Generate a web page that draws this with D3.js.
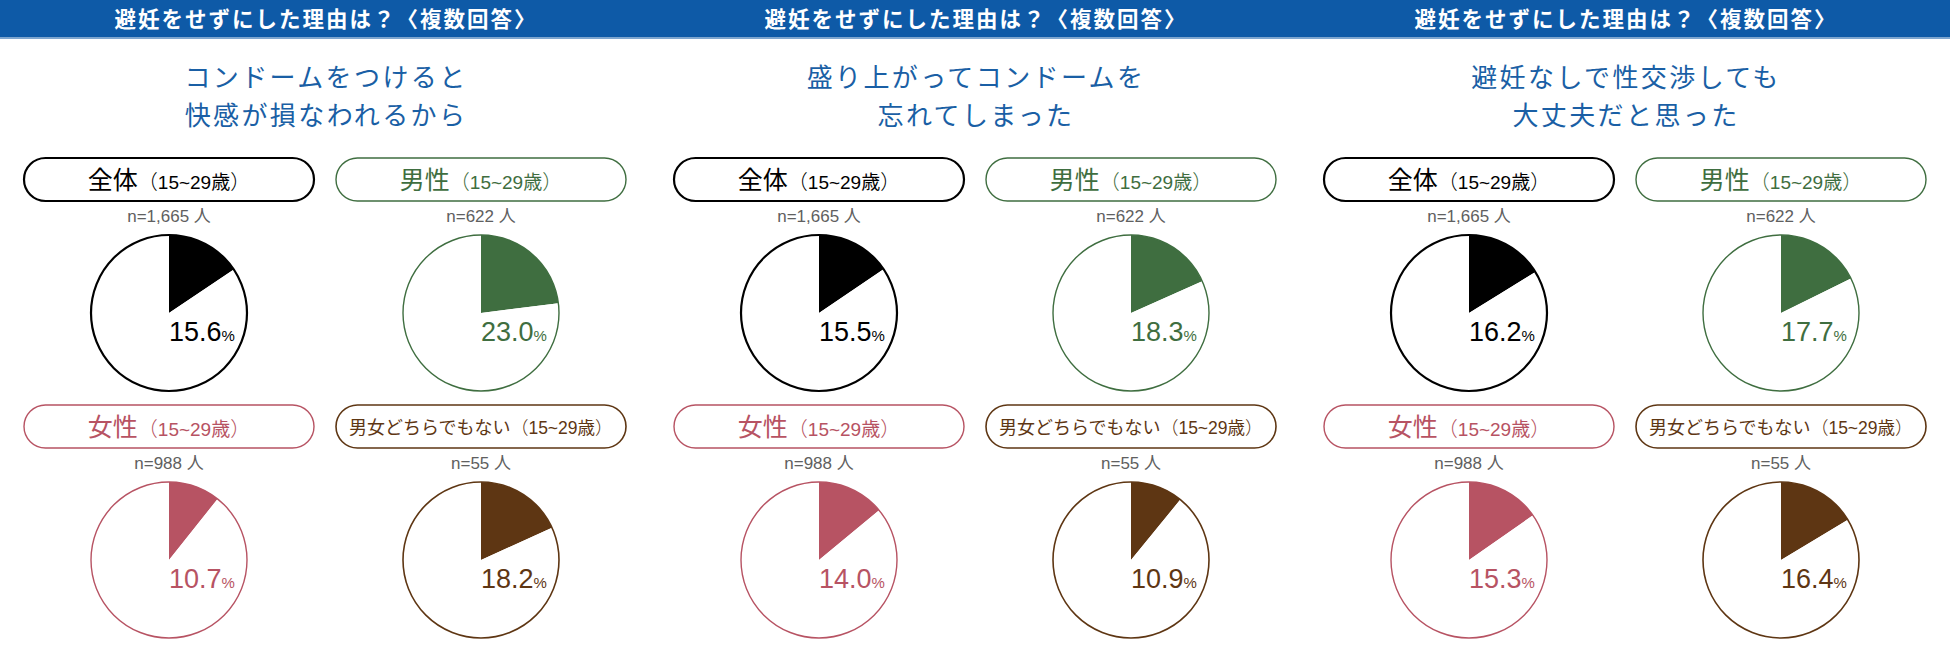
<!DOCTYPE html>
<html>
<head>
<meta charset="utf-8">
<script src="https://cdn.jsdelivr.net/npm/d3@7"></script>
<style>
  body { margin: 0; background: #fff; }
  svg { display: block; }
</style>
</head>
<body>
<div id="chart"></div>
<script>
const headerTitle = "避妊をせずにした理由は？〈複数回答〉";
const reasons = [
    ["コンドームをつけると", "快感が損なわれるから"],
    ["盛り上がってコンドームを", "忘れてしまった"],
    ["避妊なしで性交渉しても", "大丈夫だと思った"]
];
const groups = ["全体", "男性", "女性", "男女どちらでもない"];
const ageLabel = "（15~29歳）";
const sampleSizes = ["n=1,665 人", "n=622 人", "n=988 人", "n=55 人"];

// percent per group (全体, 男性, 女性, 男女どちらでもない)
const valuesReason1 = [15.6, 23.0, 10.7, 18.2];
const valuesReason2 = [15.5, 18.3, 14.0, 10.9];
const valuesReason3 = [16.2, 17.7, 15.3, 16.4];
const panelValues = [valuesReason1, valuesReason2, valuesReason3];

const groupColors = ["#000000", "#3f6e40", "#b75363", "#5e3613"];
const groupStroke = [2.2, 1.4, 1.4, 1.6];

const width = 1950, height = 650;
const blue = "#0e5aa7";
const jp = "'Noto Sans CJK JP', sans-serif";
const latin = "'Liberation Sans', 'Noto Sans CJK JP', sans-serif";

const svg = d3.select("#chart")
    .append("svg")
    .attr("width", width)
    .attr("height", height);

// header band
svg.append("rect")
    .attr("x", 0).attr("y", 0)
    .attr("width", width).attr("height", 37)
    .attr("fill", blue);
svg.append("rect")
    .attr("x", 0).attr("y", 37)
    .attr("width", width).attr("height", 2)
    .attr("fill", "#7ea6cf");

const panelScale = d3.scaleBand()
    .domain(d3.range(reasons.length))
    .range([0, width]);

const colX = d3.scaleOrdinal().domain([0, 1]).range([169, 481]);
const rowY = d3.scaleOrdinal().domain([0, 1]).range([0, 247]);

const pillW = 290, pillH = 43, pillTop = 158;
const radius = 78;
const pieCy = 313;

const pie = d3.pie().sort(null).value(d => d);
const arc = d3.arc().innerRadius(0).outerRadius(radius);

const panels = svg.selectAll(".panel")
    .data(reasons)
    .join("g")
    .attr("class", "panel")
    .attr("transform", (d, i) => `translate(${panelScale(i)},0)`);

panels.append("text")
    .attr("x", panelScale.bandwidth() / 2 + 1)
    .attr("y", 27)
    .attr("text-anchor", "middle")
    .attr("fill", "#fff")
    .style("font-family", jp)
    .style("font-weight", "bold")
    .style("font-size", "21.5px")
    .style("letter-spacing", "2px")
    .text(headerTitle);

panels.each(function (lines, p) {
    const g = d3.select(this);
    const cx = panelScale.bandwidth() / 2;

    lines.forEach((line, k) => {
        g.append("text")
            .attr("x", cx + 1)
            .attr("y", 87 + k * 38)
            .attr("text-anchor", "middle")
            .attr("fill", "#1a5fa5")
            .style("font-family", jp)
            .style("font-size", "26px")
            .style("letter-spacing", "2.4px")
            .text(line);
    });

    groups.forEach((name, gi) => {
        const col = gi % 2, row = Math.floor(gi / 2);
        const x = colX(col), dy = rowY(row);
        const color = groupColors[gi];
        const long = gi === 3;
        const cell = g.append("g").attr("transform", `translate(${x},${dy})`);

        cell.append("rect")
            .attr("x", -pillW / 2)
            .attr("y", pillTop)
            .attr("width", pillW)
            .attr("height", pillH)
            .attr("rx", pillH / 2)
            .attr("fill", "#fff")
            .attr("stroke", color)
            .attr("stroke-width", groupStroke[gi]);

        const label = cell.append("text")
            .attr("x", 0)
            .attr("y", pillTop + pillH / 2 + (long ? 7 : 9))
            .attr("text-anchor", "middle")
            .attr("fill", color)
            .style("font-family", jp);
        label.append("tspan")
            .style("font-size", long ? "18px" : "25px")
            .text(name);
        label.append("tspan")
            .style("font-weight", 300)
            .style("font-size", long ? "18px" : "20px")
            .text("（");
        label.append("tspan")
            .style("font-family", latin)
            .style("font-size", long ? "17.5px" : "19px")
            .text(ageLabel.slice(1, -1));
        label.append("tspan")
            .style("font-weight", 300)
            .style("font-size", long ? "18px" : "20px")
            .text("）");

        cell.append("text")
            .attr("x", 0)
            .attr("y", 222)
            .attr("text-anchor", "middle")
            .attr("fill", "#606060")
            .style("font-family", latin)
            .style("font-size", "17px")
            .text(sampleSizes[gi]);

        const v = panelValues[p][gi];
        const pg = cell.append("g").attr("transform", `translate(0,${pieCy})`);
        pg.selectAll("path")
            .data(pie([v, 100 - v]))
            .join("path")
            .attr("d", arc)
            .attr("fill", (d, i) => i === 0 ? color : "#fff");
        pg.append("path")
            .attr("d", arc({startAngle: 0, endAngle: 2 * Math.PI}))
            .attr("fill", "none")
            .attr("stroke", color)
            .attr("stroke-width", groupStroke[gi]);

        const pct = pg.append("text")
            .attr("x", 0)
            .attr("y", 28)
            .attr("fill", color)
            .style("font-family", latin)
            .style("font-size", "27px");
        pct.append("tspan").text(v.toFixed(1));
        pct.append("tspan").style("font-size", "15px").text("%");
    });
});
</script>
</body>
</html>
